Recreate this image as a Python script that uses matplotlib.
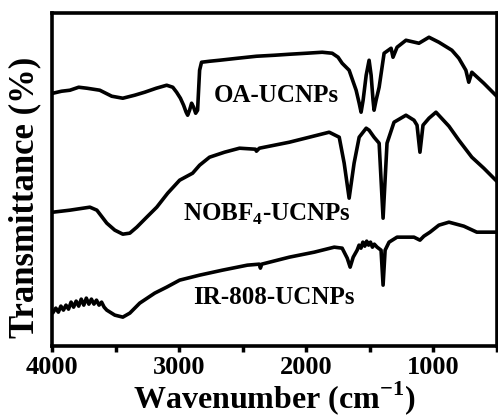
import numpy as np
import matplotlib
matplotlib.use("Agg")
from matplotlib import pyplot as plt
from matplotlib.ticker import MultipleLocator

plt.rcParams["font.family"] = ["Liberation Serif", "DejaVu Serif"]
plt.rcParams["font.weight"] = "bold"
plt.rcParams["mathtext.fontset"] = "custom"
plt.rcParams["mathtext.rm"] = "Liberation Serif:bold"
plt.rcParams["mathtext.bf"] = "Liberation Serif:bold"

# FTIR spectra, transmittance offset per sample (a.u.)
oa_wn = [3992, 3925, 3859, 3790, 3725, 3624, 3530, 3443, 3350, 3271, 3180, 3098,
         3050, 3020, 2990, 2965, 2945, 2933, 2918, 2902, 2886, 2870, 2855, 2847,
         2839, 2824, 2760, 2682, 2540, 2392, 2250, 2133, 2000, 1875, 1796, 1750,
         1718, 1663, 1608, 1584, 1569, 1553, 1529, 1506, 1490, 1475, 1467, 1451,
         1427, 1388, 1333, 1318, 1286, 1216, 1114, 1035, 957, 855, 800, 745,
         722, 698, 604, 510]
oa_t = [75.9, 76.5, 76.8, 77.7, 77.4, 76.8, 75.0, 74.4, 75.3, 76.2, 77.4, 78.3,
        77.7, 76.2, 74.4, 72.3, 70.2, 69.3, 70.8, 72.9, 71.7, 69.9, 70.8, 76.8,
        82.8, 85.2, 85.5, 85.8, 86.4, 87.0, 87.3, 87.6, 87.9, 88.2, 87.9, 86.7,
        84.9, 82.8, 76.8, 72.9, 70.2, 73.8, 81.3, 85.8, 81.3, 73.8, 70.8, 73.8,
        77.7, 87.9, 89.4, 86.7, 89.7, 91.8, 90.9, 92.7, 91.2, 88.8, 86.4, 82.8,
        79.2, 82.2, 78.9, 75.3]

nobf_wn = [3992, 3859, 3702, 3647, 3569, 3506, 3443, 3388, 3333, 3255, 3176, 3090,
           2996, 2894, 2839, 2761, 2643, 2525, 2400, 2392, 2369, 2133, 1976, 1820,
           1741, 1702, 1663, 1624, 1584, 1529, 1506, 1467, 1427, 1396, 1365, 1310,
           1216, 1153, 1129, 1106, 1082, 1035, 980, 878, 800, 698, 604, 510]
nobf_t = [40.2, 40.8, 41.7, 40.8, 36.9, 34.8, 33.6, 33.9, 35.7, 38.7, 41.7, 45.9,
          49.8, 51.9, 54.3, 56.7, 58.2, 59.4, 59.1, 58.5, 59.4, 61.2, 62.7, 64.2,
          62.7, 54.9, 44.4, 54.9, 62.7, 65.4, 64.8, 62.7, 60.9, 38.4, 60.9, 67.2,
          69.3, 67.8, 66.3, 58.2, 66.3, 68.4, 70.2, 66.0, 61.8, 56.7, 53.4, 49.8]

ir_wn = [3990, 3970, 3950, 3930, 3910, 3890, 3870, 3850, 3830, 3810, 3790, 3770,
         3750, 3730, 3710, 3690, 3670, 3650, 3630, 3610, 3590, 3569, 3506,
         3443, 3388, 3310, 3192, 3098, 2996, 2839, 2659, 2463, 2369, 2361, 2350,
         2133, 1937, 1780, 1718, 1678, 1655, 1631, 1600, 1585, 1570, 1555, 1540,
         1525, 1510, 1495, 1480, 1465, 1443,
         1412, 1396, 1380, 1349, 1286, 1153, 1106, 1075, 1027, 957, 878, 761,
         659, 565, 510]
ir_t = [10.2, 11.4, 10.2, 12.0, 10.8, 12.3, 11.1, 13.2, 11.7, 13.5, 12.0, 14.1,
        12.3, 14.4, 12.6, 14.1, 12.6, 13.8, 12.3, 13.2, 11.7, 10.8, 9.3,
        8.7, 9.9, 12.9, 15.9, 17.7, 19.8, 21.3, 22.8, 24.3, 24.6, 23.4, 24.6,
        26.7, 28.2, 29.7, 29.4, 26.4, 23.7, 26.7, 28.8, 30.3, 29.4, 31.2, 30.0,
        31.5, 30.3, 31.2, 29.7, 30.6, 29.7,
        28.8, 18.3, 28.8, 31.2, 32.7, 32.7, 31.8, 33.0, 34.2, 36.3, 37.2, 36.0,
        34.2, 34.2, 34.2]

labels = ["OA-UCNPs", "NOBF$_4$-UCNPs", "IR-808-UCNPs"]
label_pos = [(2235, 75.3), (2306, 39.6), (2251, 14.7)]


def main():
    fig = plt.figure(figsize=(4.98, 4.17), dpi=100)
    ax = fig.add_axes([0.1044, 0.170, 0.8936, 0.799])

    for wn, t in [(oa_wn, oa_t), (nobf_wn, nobf_t), (ir_wn, ir_t)]:
        ax.plot(wn, t, color="black", lw=2.6, solid_joinstyle="round")

    for text, (x, y) in zip(labels, label_pos):
        ax.text(x, y, text, fontsize=18, fontweight="bold", ha="center", va="center")

    ax.set_xlim(4000, 500)
    ax.set_ylim(0, 100)
    ax.xaxis.set_major_locator(MultipleLocator(1000))
    ax.xaxis.set_minor_locator(MultipleLocator(500))
    ax.set_yticks([])
    ax.tick_params(axis="x", which="both", direction="out", length=4, width=2.5,
                   labelsize=19, pad=3)
    for s in ax.spines.values():
        s.set_linewidth(2.6)

    ax.set_xlabel("Wavenumber (cm$^{-1}$)", fontsize=23, fontweight="bold")
    ax.xaxis.set_label_coords(0.5, -0.098)
    ax.set_ylabel("Transmittance (%)", fontsize=25, fontweight="bold")
    ax.yaxis.set_label_coords(-0.024, 0.447)

    fig.savefig("out.png", dpi=100)


if __name__ == "__main__":
    main()
